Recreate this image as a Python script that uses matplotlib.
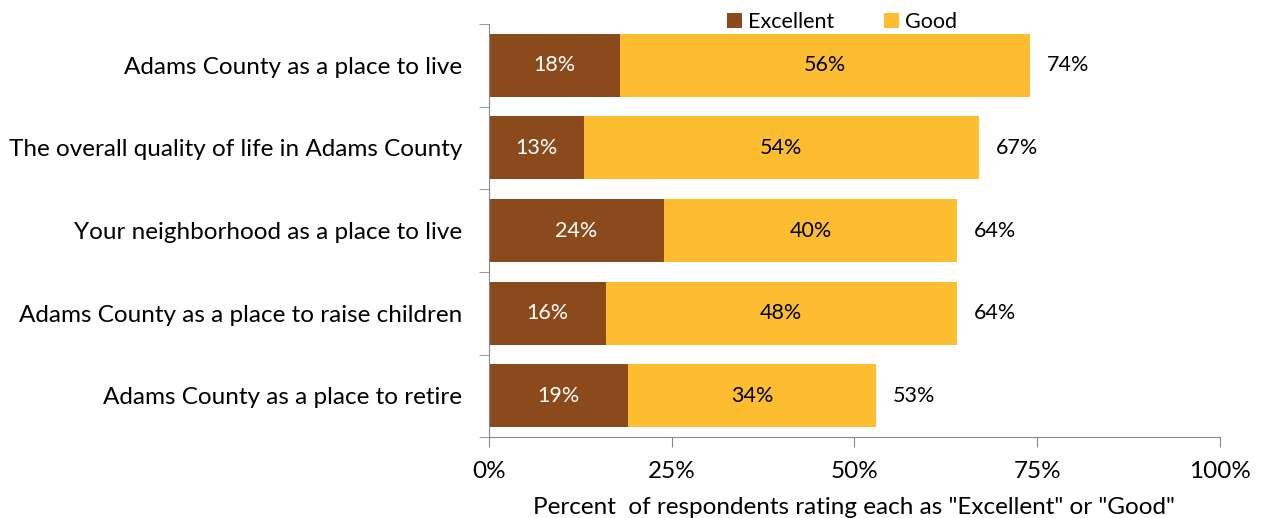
import numpy as np
import matplotlib.pyplot as plt
from matplotlib.ticker import FixedLocator, PercentFormatter

plt.rcParams['font.family'] = ['Lato', 'DejaVu Sans']

categories = ["Adams County as a place to live",
              "The overall quality of life in Adams County",
              "Your neighborhood as a place to live",
              "Adams County as a place to raise children",
              "Adams County as a place to retire"]
excellent = [18, 13, 24, 16, 19]
good = [56, 54, 40, 48, 34]

brown = "#8B4A1C"
gold = "#FDBD30"

fig = plt.figure(figsize=(12.63, 5.18), dpi=100)
ax = fig.add_axes([0.387, 0.156, 0.579, 0.798])

y = np.arange(len(categories))
total = np.array(excellent) + np.array(good)

b1 = ax.barh(y, excellent, height=0.76, color=brown, label="Excellent")
b2 = ax.barh(y, good, left=excellent, height=0.76, color=gold, label="Good")

for i in range(len(categories)):
    ax.text(excellent[i] / 2, y[i], f"{excellent[i]}%", ha="center", va="center",
            color="white", fontsize=15.5)
    ax.text(excellent[i] + good[i] / 2, y[i], f"{good[i]}%", ha="center", va="center",
            color="black", fontsize=15.5)
    ax.text(total[i] + 2.3, y[i], f"{total[i]}%", ha="left", va="center",
            color="black", fontsize=15.5)

ax.set_xlim(0, 100)
ax.set_ylim(len(categories) - 0.5, -0.5)
ax.xaxis.set_major_locator(FixedLocator([0, 25, 50, 75, 100]))
ax.xaxis.set_major_formatter(PercentFormatter(decimals=0))
ax.set_yticks(y)
ax.set_yticklabels(categories)
ax.yaxis.set_minor_locator(FixedLocator(np.arange(-0.5, len(categories), 1)))
ax.tick_params(axis="y", which="major", length=0, pad=19, labelsize=17.5)
ax.tick_params(axis="y", which="minor", length=7, direction="out", color="#888888")
ax.tick_params(axis="x", length=7, direction="out", color="#888888", labelsize=17.5, pad=10)
for s in ["top", "right"]:
    ax.spines[s].set_visible(False)
for s in ["left", "bottom"]:
    ax.spines[s].set_color("#888888")
ax.set_xlabel('Percent  of respondents rating each as "Excellent" or "Good"',
              fontsize=17.5, labelpad=11)

fig.legend(handles=[b1, b2], loc="upper left", bbox_to_anchor=(0.56, 1.015), ncol=2,
           frameon=False, fontsize=15.5, handlelength=0.7, handleheight=0.7,
           handletextpad=0.3, columnspacing=2.3)

fig.savefig("out.png", dpi=100)
